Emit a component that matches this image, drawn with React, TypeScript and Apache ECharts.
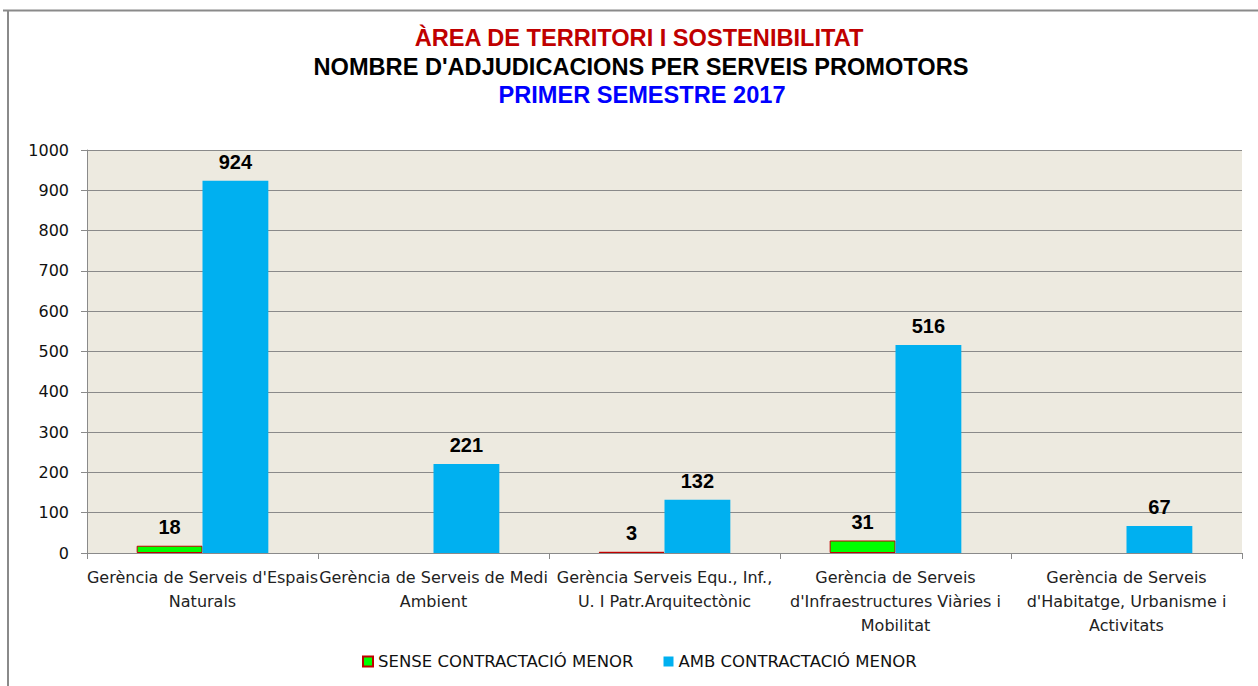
import React, { useEffect, useRef } from "react";
import * as echarts from "echarts";

const titleLines = [
  "ÀREA DE TERRITORI I SOSTENIBILITAT",
  "NOMBRE D'ADJUDICACIONS PER SERVEIS PROMOTORS",
  "PRIMER SEMESTRE 2017",
];
const categories = [
  "Gerència de Serveis d'Espais\nNaturals",
  "Gerència de Serveis de Medi\nAmbient",
  "Gerència Serveis Equ., Inf.,\nU. I Patr.Arquitectònic",
  "Gerència de Serveis\nd'Infraestructures Viàries i\nMobilitat",
  "Gerència de Serveis\nd'Habitatge, Urbanisme i\nActivitats",
];
const seriesNames = ["SENSE CONTRACTACIÓ MENOR", "AMB CONTRACTACIÓ MENOR"];
const senseValues: (number | null)[] = [18, null, 3, 31, null];
const ambValues: number[] = [924, 221, 132, 516, 67];

export default function App() {
  const ref = useRef<HTMLDivElement>(null);
  useEffect(() => {
    if (!ref.current) return;
    const chart = echarts.init(ref.current, null, { renderer: "svg" });
    const titleFont = 'bold 23.6px "Liberation Sans", Arial, sans-serif';
    const axisFont = '"DejaVu Sans", sans-serif';
    const labelStyle = {
      show: true,
      position: "top",
      distance: 9,
      fontFamily: '"Liberation Sans", Arial, sans-serif',
      fontWeight: "bold",
      fontSize: 20,
      color: "#000",
    };
    chart.setOption({
      animation: false,
      backgroundColor: "#ffffff",
      graphic: [
        { type: "line", shape: { x1: 3, y1: 10.5, x2: 1258, y2: 10.5 }, style: { stroke: "#8a8a8a", lineWidth: 2 } },
        { type: "line", shape: { x1: 8, y1: 10, x2: 8, y2: 686 }, style: { stroke: "#8a8a8a", lineWidth: 2 } },
        { type: "text", style: { text: titleLines[0], x: 639, y: 38, align: "center", verticalAlign: "middle", fill: "#C00000", font: titleFont } },
        { type: "text", style: { text: titleLines[1], x: 641, y: 67, align: "center", verticalAlign: "middle", fill: "#000000", font: titleFont } },
        { type: "text", style: { text: titleLines[2], x: 642, y: 95, align: "center", verticalAlign: "middle", fill: "#0000FF", font: titleFont } },
      ],
      grid: {
        left: 87,
        right: 16,
        top: 150,
        bottom: 133,
        show: true,
        backgroundColor: "#EDEAE0",
        borderWidth: 0,
      },
      legend: {
        data: seriesNames,
        bottom: 11,
        left: 357,
        itemWidth: 10,
        itemHeight: 10,
        itemGap: 30,
        icon: "rect",
        textStyle: { fontFamily: axisFont, fontSize: 16.5, color: "#111" },
      },
      xAxis: {
        type: "category",
        data: categories,
        axisLine: { lineStyle: { color: "#8a8a8a", width: 1 } },
        axisTick: { show: true, length: 6, lineStyle: { color: "#8a8a8a" } },
        axisLabel: {
          interval: 0,
          fontFamily: axisFont,
          fontSize: 16,
          color: "#222",
          lineHeight: 24,
          margin: 12,
        },
      },
      yAxis: {
        type: "value",
        min: 0,
        max: 1000,
        interval: 100,
        axisLine: { show: true, lineStyle: { color: "#8a8a8a" } },
        axisTick: { show: true, length: 6, lineStyle: { color: "#8a8a8a" } },
        splitLine: { lineStyle: { color: "#8a8a8a", width: 1 } },
        axisLabel: {
          fontFamily: axisFont,
          fontSize: 16,
          color: "#111",
          margin: 18,
          formatter: (v: number) => String(v),
        },
      },
      series: [
        {
          name: seriesNames[0],
          type: "bar",
          data: senseValues,
          barGap: "0%",
          barCategoryGap: "43%",
          itemStyle: { color: "#00FF00", borderColor: "#C00000", borderWidth: 1 },
          label: labelStyle,
        },
        {
          name: seriesNames[1],
          type: "bar",
          data: ambValues,
          barGap: "0%",
          barCategoryGap: "43%",
          itemStyle: { color: "#00B0F0" },
          label: labelStyle,
        },
      ],
    });
    return () => chart.dispose();
  }, []);
  return (
    <div
      ref={ref}
      style={{ position: "absolute", left: 0, top: 0, width: 1258, height: 686 }}
    />
  );
}
